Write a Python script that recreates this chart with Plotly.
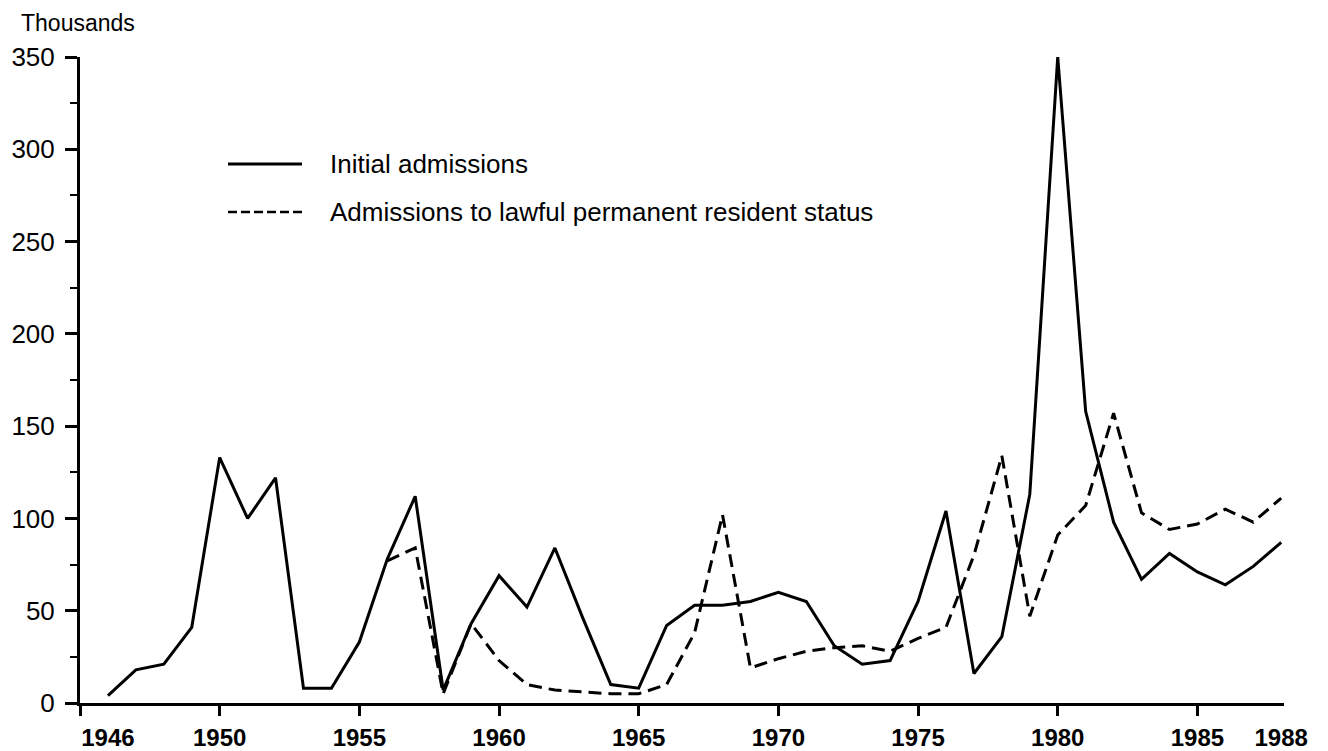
import plotly.graph_objects as go

# ---------------- data ----------------
years_initial = list(range(1946, 1989))
initial_admissions = [4, 18, 21, 41, 133, 100, 122, 8, 8, 33,
                      78, 112, 7, 43, 69, 52, 84, 46, 10, 8,
                      42, 53, 53, 55, 60, 55, 31, 21, 23, 55,
                      104, 16, 36, 113, 350, 158, 98, 67, 81, 71,
                      64, 74, 87]

years_lpr = list(range(1956, 1989))
lpr_admissions = [77, 84, 5, 43, 23, 10, 7, 6, 5, 5,
                  10, 38, 102, 19, 24, 28, 30, 31, 28, 35,
                  41, 80, 134, 47, 91, 107, 157, 103, 94, 97,
                  105, 98, 111]

x_tick_vals = [1946, 1950, 1955, 1960, 1965, 1970, 1975, 1980, 1985, 1988]
x_tick_text = ["1946", "1950", "1955", "1960", "1965", "1970", "1975", "1980", "1985", "1988"]
x_tick_marks = [1945, 1950, 1955, 1960, 1965, 1970, 1975, 1980, 1985]
y_tick_vals = [0, 50, 100, 150, 200, 250, 300, 350]

legend_names = ["Initial admissions", "Admissions to lawful permanent resident status"]

# ---------------- figure ----------------
# the page body adds an 8px offset, so figure coords = page coords - 8
OFF = 8
W, H = 1328 - OFF, 751 - OFF
L, R, T, B = 80 - OFF, 44, 57 - OFF, 48
pw, ph = W - L - R, H - T - B
FONT = "Liberation Sans, Arial, Helvetica, sans-serif"
X_RANGE = [1945, 1988.1]

fig = go.Figure()
fig.add_trace(go.Scatter(x=years_initial, y=initial_admissions, mode="lines",
                         line=dict(color="black", width=3),
                         name=legend_names[0], showlegend=False))
fig.add_trace(go.Scatter(x=years_lpr, y=lpr_admissions, mode="lines",
                         line=dict(color="black", width=3, dash="13px,7px"),
                         name=legend_names[1], showlegend=False, xaxis="x2"))

fig.update_layout(
    width=W, height=H,
    margin=dict(l=L, r=R, t=T, b=B, pad=0, autoexpand=False),
    paper_bgcolor="white", plot_bgcolor="white",
    font=dict(family=FONT, color="black"),
    xaxis=dict(range=X_RANGE, showgrid=False, zeroline=False, automargin=False,
               showline=True, linecolor="black", linewidth=3,
               tickmode="array", tickvals=x_tick_vals, ticktext=x_tick_text,
               ticks="", ticklabelstandoff=11,
               tickfont=dict(family=FONT, size=24, color="black", weight="bold")),
    xaxis2=dict(range=X_RANGE, overlaying="x", anchor="y", side="bottom",
                automargin=False,
                showgrid=False, zeroline=False, showline=False,
                tickmode="array", tickvals=x_tick_marks,
                ticktext=[""] * len(x_tick_marks), showticklabels=False,
                ticks="outside", ticklen=12, tickwidth=3, tickcolor="black"),
    yaxis=dict(range=[0, 350], showgrid=False, zeroline=False, automargin=False,
               showline=True, linecolor="black", linewidth=3,
               tickmode="array", tickvals=y_tick_vals,
               ticks="outside", ticklen=12, tickwidth=2.5, tickcolor="black",
               ticklabelstandoff=5,
               tickfont=dict(family=FONT, size=26, color="black"),
               minor=dict(tickmode="linear", tick0=0, dtick=25, ticks="outside",
                          ticklen=7, tickwidth=2, tickcolor="black")),
)

# "Thousands" unit label (page coords)
fig.add_annotation(text="Thousands", xref="paper", yref="paper",
                   x=(19 - 80) / pw, y=1 + (57 - 23) / ph,
                   xanchor="left", yanchor="middle", showarrow=False,
                   font=dict(family=FONT, size=23, color="black"))

# manual legend (page coords)
legend_rows = [(164, "solid"), (212, "dash")]
for (ypix, dash), name in zip(legend_rows, legend_names):
    yp = 1 - (ypix - 57) / ph
    fig.add_shape(type="line", xref="paper", yref="paper",
                  x0=(228 - 80) / pw, x1=(302 - 80) / pw, y0=yp, y1=yp,
                  line=dict(color="black", width=3 if dash == "solid" else 2.6,
                            dash="solid" if dash == "solid" else "9px,4px"))
    fig.add_annotation(text=name, xref="paper", yref="paper",
                       x=(328 - 80) / pw, y=yp, xanchor="left", yanchor="middle",
                       showarrow=False,
                       font=dict(family=FONT, size=26, color="black"))

fig.write_html("out.html")
